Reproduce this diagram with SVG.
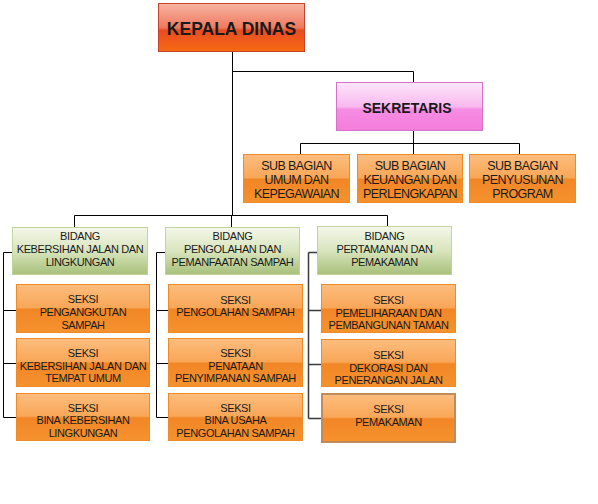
<svg xmlns="http://www.w3.org/2000/svg" width="598" height="504" viewBox="0 0 598 504">
<defs>
<linearGradient id="gOr" x1="0" y1="0" x2="0" y2="1">
<stop offset="0" stop-color="#fcbd7e"/><stop offset="0.48" stop-color="#f9a758"/><stop offset="0.52" stop-color="#f28626"/><stop offset="1" stop-color="#f5922e"/>
</linearGradient>
<linearGradient id="gGr" x1="0" y1="0" x2="0" y2="1">
<stop offset="0" stop-color="#f4f7ea"/><stop offset="0.5" stop-color="#d9e5bd"/><stop offset="1" stop-color="#a7c07a"/>
</linearGradient>
<linearGradient id="gRd" x1="0" y1="0" x2="0" y2="1">
<stop offset="0" stop-color="#f7b4a4"/><stop offset="0.5" stop-color="#ee7a5e"/><stop offset="0.56" stop-color="#e84c22"/><stop offset="1" stop-color="#f76a12"/>
</linearGradient>
<linearGradient id="gPk" x1="0" y1="0" x2="0" y2="1">
<stop offset="0" stop-color="#fde8fb"/><stop offset="0.5" stop-color="#f9b8ee"/><stop offset="0.56" stop-color="#f68ce3"/><stop offset="1" stop-color="#f47ddb"/>
</linearGradient>
</defs>
<style>
text{font-family:"Liberation Sans",Arial,sans-serif;fill:#1a1a1a;text-anchor:middle}
.or{fill:url(#gOr);stroke:#ee8a2a;stroke-width:1}
.gr{fill:url(#gGr);stroke:#c2d39c;stroke-width:1}
.sb text{font-size:12.5px;letter-spacing:-0.6px}
.bd text,.sk text{font-size:11px;letter-spacing:-0.4px}
.ln{fill:none;stroke:#000;stroke-width:1}
.ln3{fill:none;stroke:#3a3a3a;stroke-width:1.5}
</style>
<g id="connectors">
<path class="ln" d="M232.5 52V215.5M232.5 71.5H413.5V82"/>
<path class="ln" d="M413.5 131V143.5M300.5 143.5H519.5M300.5 143.5V154M413.5 143.5V154M519.5 143.5V154"/>
<path class="ln" d="M74.5 215.5H387.5M74.5 215.5V227M231.5 215.5V227M387.5 215.5V226"/>
<path class="ln" d="M3.5 252.5V417.5M3.5 252.5H12M3.5 310.5H16M3.5 363.5H16M3.5 417.5H16"/>
<path class="ln" d="M156.5 252.5V417.5M156.5 252.5H165M156.5 310.5H168M156.5 363.5H168M156.5 417.5H168"/>
<path class="ln3" d="M308.5 252.5V418.5M308.5 252.5H317M308.5 310.5H321M308.5 364.5H321M308.5 418.5H321"/>
</g>
<g id="kepala-dinas">
<rect x="158.5" y="3.5" width="146" height="48" fill="url(#gRd)" stroke="#c4452a"/>
<text x="231.5" y="34.5" style="font-size:17.5px;font-weight:bold">KEPALA DINAS</text>
</g>
<g id="sekretaris">
<rect x="336.5" y="82.5" width="146" height="48" fill="url(#gPk)" stroke="#d472c8"/>
<text x="407" y="112.5" style="font-size:14px;font-weight:bold">SEKRETARIS</text>
</g>
<g id="sub-umum" class="sb">
<rect class="or" x="243.5" y="154.5" width="106" height="48"/>
<text x="296.5" y="169.5">SUB BAGIAN</text><text x="296.5" y="183.5">UMUM DAN</text><text x="296.5" y="197.5">KEPEGAWAIAN</text>
</g>
<g id="sub-keuangan" class="sb">
<rect class="or" x="357.5" y="154.5" width="105" height="48"/>
<text x="410" y="169.5">SUB BAGIAN</text><text x="410" y="183.5">KEUANGAN DAN</text><text x="410" y="197.5">PERLENGKAPAN</text>
</g>
<g id="sub-penyusunan" class="sb">
<rect class="or" x="469.5" y="154.5" width="106" height="48"/>
<text x="522.5" y="169.5">SUB BAGIAN</text><text x="522.5" y="183.5">PENYUSUNAN</text><text x="522.5" y="197.5">PROGRAM</text>
</g>
<g id="bidang-kebersihan" class="bd">
<rect class="gr" x="12.5" y="227.5" width="135" height="47"/>
<text x="80" y="240">BIDANG</text><text x="80" y="253">KEBERSIHAN JALAN DAN</text><text x="80" y="265.5">LINGKUNGAN</text>
</g>
<g id="bidang-pengolahan" class="bd">
<rect class="gr" x="165.5" y="227.5" width="134" height="47"/>
<text x="232.5" y="240">BIDANG</text><text x="232.5" y="253">PENGOLAHAN DAN</text><text x="232.5" y="265.5">PEMANFAATAN SAMPAH</text>
</g>
<g id="bidang-pertamanan" class="bd">
<rect class="gr" x="317.5" y="226.5" width="134" height="48"/>
<text x="384.5" y="240">BIDANG</text><text x="384.5" y="253">PERTAMANAN DAN</text><text x="384.5" y="265.5">PEMAKAMAN</text>
</g>
<g id="seksi-pengangkutan" class="sk">
<rect class="or" x="16.5" y="284.5" width="133" height="48"/>
<text x="83" y="303">SEKSI</text><text x="83" y="315.5">PENGANGKUTAN</text><text x="83" y="328.5">SAMPAH</text>
</g>
<g id="seksi-kebersihan-jalan" class="sk">
<rect class="or" x="16.5" y="338.5" width="133" height="48"/>
<text x="83" y="357">SEKSI</text><text x="83" y="369.5">KEBERSIHAN JALAN DAN</text><text x="83" y="382">TEMPAT UMUM</text>
</g>
<g id="seksi-bina-kebersihan" class="sk">
<rect class="or" x="16.5" y="393.5" width="133" height="47"/>
<text x="83" y="411.5">SEKSI</text><text x="83" y="424">BINA KEBERSIHAN</text><text x="83" y="436.5">LINGKUNGAN</text>
</g>
<g id="seksi-pengolahan" class="sk">
<rect class="or" x="168.5" y="284.5" width="134" height="48"/>
<text x="235.5" y="304">SEKSI</text><text x="235.5" y="316">PENGOLAHAN SAMPAH</text>
</g>
<g id="seksi-penataan" class="sk">
<rect class="or" x="168.5" y="338.5" width="134" height="48"/>
<text x="235.5" y="357">SEKSI</text><text x="235.5" y="369.5">PENATAAN</text><text x="235.5" y="382">PENYIMPANAN SAMPAH</text>
</g>
<g id="seksi-bina-usaha" class="sk">
<rect class="or" x="168.5" y="393.5" width="134" height="47"/>
<text x="235.5" y="411.5">SEKSI</text><text x="235.5" y="424">BINA USAHA</text><text x="235.5" y="436.5">PENGOLAHAN SAMPAH</text>
</g>
<g id="seksi-pemeliharaan" class="sk">
<rect class="or" x="321.5" y="284.5" width="134" height="48"/>
<text x="388.5" y="304">SEKSI</text><text x="388.5" y="316.5">PEMELIHARAAN DAN</text><text x="388.5" y="329">PEMBANGUNAN TAMAN</text>
</g>
<g id="seksi-dekorasi" class="sk">
<rect class="or" x="321.5" y="339.5" width="134" height="47"/>
<text x="388.5" y="359">SEKSI</text><text x="388.5" y="371.5">DEKORASI DAN</text><text x="388.5" y="384">PENERANGAN JALAN</text>
</g>
<g id="seksi-pemakaman" class="sk">
<rect x="322" y="394" width="133" height="48" fill="url(#gOr)" stroke="#bf8a5c" stroke-width="2"/>
<text x="388.5" y="413">SEKSI</text><text x="388.5" y="425.5">PEMAKAMAN</text>
</g>
</svg>
